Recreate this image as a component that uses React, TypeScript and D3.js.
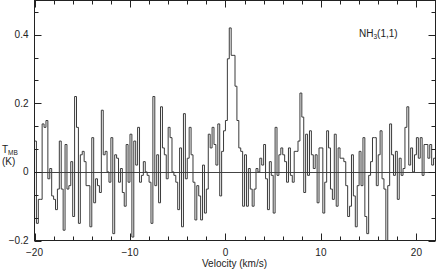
import React from "react";
import * as d3 from "d3";

// spectrum channels, left edge = vStart + i * dv
const vStart = -20;
const dv = 0.2;
const tmb = [
  0.09, -0.15, -0.08, -0.08, 0.14, 0.13, 0.15, -0.02, 0.01, -0.07,
  -0.08, -0.11, -0.05, 0.09, -0.05, -0.17, 0.08, -0.05, -0.04, 0.03,
  -0.13, 0.22, 0.13, -0.15, 0.05, 0.06, 0.03, -0.04, -0.04, -0.16,
  0.1, -0.09, -0.02, -0.04, -0.06, 0.18, 0.05, 0.06, 0.0, -0.03,
  0.1, -0.18, 0.05, 0.04, -0.03, 0.01, -0.06, -0.1, 0.08, -0.03,
  0.11, -0.19, 0.09, 0.02, 0.13, -0.03, -0.01, 0.03, 0.0, -0.01,
  -0.03, -0.15, 0.22, -0.04, 0.05, -0.09, 0.19, 0.07, 0.05, -0.02,
  0.13, 0.1, 0.0, -0.01, -0.03, -0.11, 0.07, -0.16, 0.17, -0.02,
  0.04, 0.13, 0.05, -0.03, -0.14, -0.04, -0.07, -0.14, 0.02, -0.12,
  -0.05, 0.11, 0.07, 0.13, 0.08, 0.02, 0.14, -0.07, 0.06, 0.12,
  0.15, 0.33, 0.42, 0.34, 0.34, 0.25, 0.15, 0.07, 0.06, -0.1,
  0.05, -0.1, 0.01, -0.05, -0.1, -0.05, 0.01, 0.0, 0.04, 0.02,
  0.08, -0.02, -0.11, 0.03, -0.01, -0.12, 0.13, -0.01, 0.05, 0.07,
  0.05, 0.03, -0.03, 0.07, -0.01, -0.03, 0.06, 0.06, 0.09, 0.23,
  0.16, -0.06, 0.11, -0.01, 0.12, 0.05, 0.01, 0.05, -0.09, 0.07,
  0.07, -0.12, -0.03, 0.12, 0.07, -0.05, -0.08, 0.11, -0.1, 0.07,
  0.04, 0.04, 0.03, -0.04, -0.13, -0.1, 0.05, -0.07, -0.16, -0.04,
  0.06, -0.04, 0.1, -0.13, -0.18, -0.01, 0.03, 0.1, 0.1, -0.04,
  0.05, 0.12, -0.02, -0.05, -0.2, -0.04, 0.14, 0.05, -0.01, 0.06,
  -0.08, 0.04, -0.01, 0.01, 0.13, 0.19, 0.02, 0.07, 0.0, 0.05,
  0.1, 0.04, 0.1, -0.01, 0.08, 0.08, 0.04, 0.08, 0.02, 0.04,
];

const xMajor = [-20, -10, 0, 10, 20];
const xLabels = ["\u221220", "\u221210", "0", "10", "20"];
const yMajor = [-0.2, 0, 0.2, 0.4];
const yLabels = ["\u22120.2", "0", "0.2", "0.4"];

const width = 436;
const height = 270;
const margin = { top: 0.5, right: 0.5, bottom: 29.5, left: 34.5 };
const font = "'Liberation Sans', Arial, sans-serif";

export default function App() {
  const x = d3
    .scaleLinear()
    .domain([-20, 22])
    .range([margin.left, width - margin.right]);
  const y = d3
    .scaleLinear()
    .domain([-0.2, 0.5])
    .range([height - margin.bottom, margin.top]);

  const pts: [number, number][] = tmb.map((t, i) => [vStart + i * dv, t]);
  pts.push([vStart + tmb.length * dv, tmb[tmb.length - 1]]);
  const line = d3
    .line<[number, number]>()
    .x((d) => x(d[0]))
    .y((d) => y(d[1]))
    .curve(d3.curveStepAfter);

  const xMinor = d3.range(-20, 22.01, 2);
  const yMinor = d3.range(0, 11).map((k) => -0.2 + (k * 0.2) / 3);

  const x0 = margin.left;
  const x1 = width - margin.right;
  const y0 = height - margin.bottom;
  const y1 = margin.top;

  return (
    <>
      <style>{"body{margin:0}"}</style>
      <svg width={width} height={height} style={{ display: "block" }}>
        <defs>
          <clipPath id="plot">
            <rect x={x0} y={y1} width={x1 - x0} height={y0 - y1} />
          </clipPath>
        </defs>
        <rect width={width} height={height} fill="#fff" />

        {/* zero line */}
        <line x1={x0} x2={x1} y1={Math.round(y(0)) + 0.5} y2={Math.round(y(0)) + 0.5} stroke="#444" />

        <path
          d={line(pts) || ""}
          fill="none"
          stroke="#3a3a3a"
          strokeWidth={1}
          clipPath="url(#plot)"
        />

        {/* x ticks, top and bottom */}
        {xMinor.map((v) => {
          const len = xMajor.includes(v) ? 7 : 4;
          const px = Math.round(x(v)) + 0.5;
          return (
            <g key={"xt" + v} stroke="#222">
              <line x1={px} x2={px} y1={y0} y2={y0 - len} />
              <line x1={px} x2={px} y1={y1} y2={y1 + len} />
            </g>
          );
        })}
        {/* y ticks, left and right */}
        {yMinor.map((v, k) => {
          const len = k % 3 === 0 ? 7 : 4;
          const py = Math.round(y(v)) + 0.5;
          return (
            <g key={"yt" + k} stroke="#222">
              <line x1={x0} x2={x0 + len} y1={py} y2={py} />
              <line x1={x1} x2={x1 - len} y1={py} y2={py} />
            </g>
          );
        })}

        <rect x={x0} y={y1} width={x1 - x0} height={y0 - y1} fill="none" stroke="#222" />

        <g fontFamily={font} fontSize={10} fill="#222">
          {xMajor.map((v, i) => (
            <text key={"xl" + v} x={x(v)} y={256} textAnchor="middle">
              {xLabels[i]}
            </text>
          ))}
          {yMajor.map((v, i) => (
            <text key={"yl" + v} x={28.5} y={y(v) + 3.5} textAnchor="end">
              {yLabels[i]}
            </text>
          ))}
          <text x={234.5} y={266.5} textAnchor="middle">
            Velocity (km/s)
          </text>
          <text x={2} y={153}>
            T<tspan fontSize={6.5} dy={2}>MB</tspan>
          </text>
          <text x={2} y={165}>(K)</text>
          <text x={359} y={37}>
            NH<tspan fontSize={6.5} dy={2}>3</tspan>
            <tspan dy={-2}>(1,1)</tspan>
          </text>
        </g>
      </svg>
    </>
  );
}
